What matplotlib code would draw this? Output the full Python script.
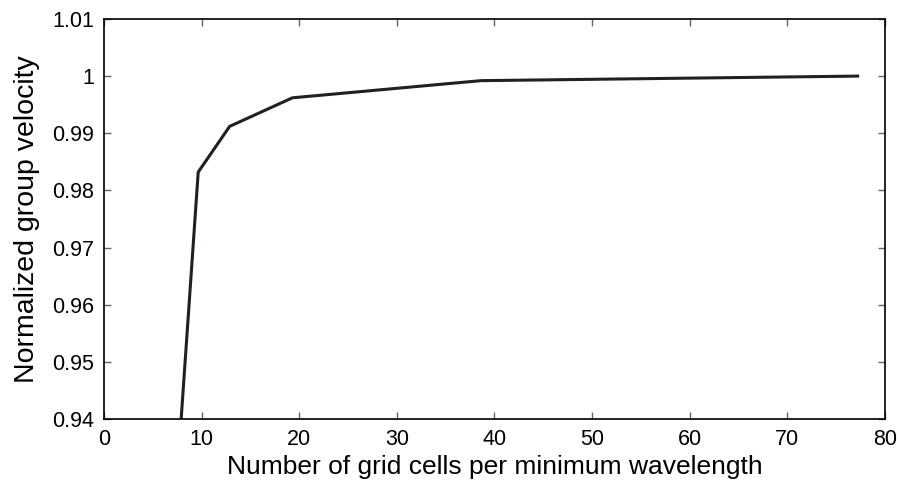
import matplotlib
matplotlib.use("Agg")
import matplotlib.pyplot as plt

plt.rcParams['font.family'] = ['Liberation Sans', 'DejaVu Sans']

# grid cells per minimum wavelength vs normalized group velocity
cells_per_wavelength = [7.72, 9.65, 12.87, 19.3, 38.6, 77.2]
group_velocity = [0.9355, 0.9832, 0.9912, 0.9962, 0.9992, 1.0]

x_ticks = [0, 10, 20, 30, 40, 50, 60, 70, 80]
y_ticks = [0.94, 0.95, 0.96, 0.97, 0.98, 0.99, 1.0, 1.01]
y_tick_labels = ['0.94', '0.95', '0.96', '0.97', '0.98', '0.99', '1', '1.01']

fig = plt.figure(figsize=(8.99, 4.86), dpi=100)
ax = fig.add_axes([0.1157, 0.138, 0.8687, 0.823])

ax.plot(cells_per_wavelength, group_velocity, color='#231f20', linewidth=2.2)

ax.set_xlim(0, 80)
ax.set_ylim(0.94, 1.01)
ax.set_xticks(x_ticks)
ax.set_yticks(y_ticks)
ax.set_yticklabels(y_tick_labels)

ax.tick_params(direction='in', top=True, right=True, length=5, width=1,
               color='#666666', labelsize=15.5, pad=7)
for spine in ax.spines.values():
    spine.set_linewidth(1.2)
    spine.set_color('black')

ax.set_xlabel("Number of grid cells per minimum wavelength", fontsize=19, labelpad=4)
ax.set_ylabel("Normalized group velocity", fontsize=20.5, labelpad=9)

fig.savefig("out.png", dpi=100)
